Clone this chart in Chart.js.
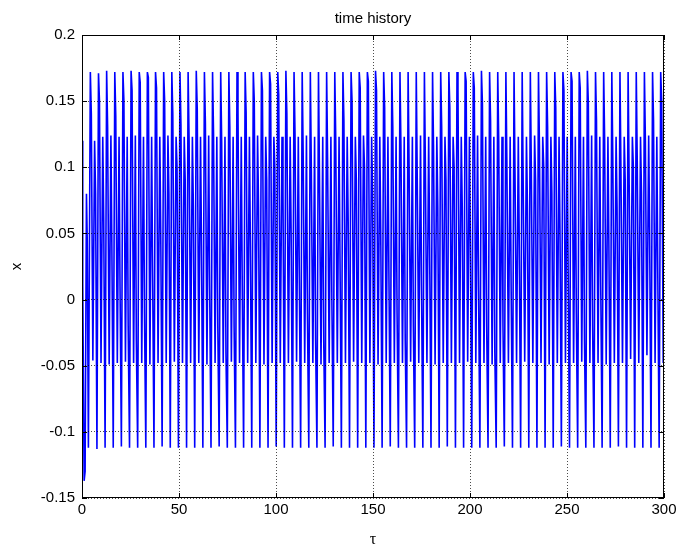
<!DOCTYPE html>
<html>
<head>
<meta charset="utf-8">
<script src="https://cdn.jsdelivr.net/npm/chart.js@4.4.1/dist/chart.umd.min.js"></script>
<style>
  body { margin: 0; background: #fff; }
  canvas { display: block; }
</style>
</head>
<body>
<canvas id="chart" width="681" height="550"></canvas>
<script>
// axis ticks
const xTicks = [0, 50, 100, 150, 200, 250, 300];
const yTicks = [-0.15, -0.1, -0.05, 0, 0.05, 0.1, 0.15, 0.2];

// start-up transient before the steady oscillation
const startTimes = [0, 0.25, 0.5, 1.1, 1.6, 2.3, 2.7, 3.3];
const startValues = [0.12, 0.005, 0.012, -0.137, -0.13, 0.08, 0.045, -0.112];

// time of each tall spike
const spikeTimes = [
  4.3, 8.5, 12.7, 16.9, 21.1, 25.3, 29.5, 33.7, 37.9, 42.1,
  46.3, 50.5, 54.7, 58.9, 63.1, 67.3, 71.5, 75.7, 79.9, 84.1,
  88.3, 92.5, 96.7, 100.9, 105.1, 109.3, 113.5, 117.7, 121.9, 126.1,
  130.3, 134.5, 138.7, 142.9, 147.1, 151.3, 155.5, 159.7, 163.9, 168.1,
  172.3, 176.5, 180.7, 184.9, 189.1, 193.3, 197.5, 201.7, 205.9, 210.1,
  214.3, 218.5, 222.7, 226.9, 231.1, 235.3, 239.5, 243.7, 247.9, 252.1,
  256.3, 260.5, 264.7, 268.9, 273.1, 277.3, 281.5, 285.7, 289.9, 294.1,
  298.3
];
// where each extreme sits inside one cycle (in tau)
const cyclePhase = [0, 0.5, 1.3, 2.2, 2.7, 3.4];

const peakHigh = [
  0.172, 0.171, 0.173, 0.172, 0.172, 0.173, 0.172, 0.172, 0.172, 0.172,
  0.172, 0.172, 0.172, 0.173, 0.172, 0.172, 0.172, 0.172, 0.172, 0.172,
  0.172, 0.172, 0.172, 0.172, 0.173, 0.172, 0.172, 0.172, 0.172, 0.172,
  0.172, 0.172, 0.172, 0.172, 0.172, 0.173, 0.172, 0.172, 0.172, 0.172,
  0.172, 0.172, 0.172, 0.172, 0.172, 0.172, 0.172, 0.172, 0.173, 0.172,
  0.172, 0.172, 0.172, 0.172, 0.172, 0.172, 0.172, 0.172, 0.172, 0.172,
  0.172, 0.173, 0.172, 0.172, 0.172, 0.172, 0.172, 0.172, 0.172, 0.172,
  0.172
];
const shoulderHigh = [
  0.140, 0.150, 0.130, 0.139, 0.150, 0.158, 0.164, 0.168, 0.160, 0.150,
  0.140, 0.132, 0.120, 0.144, 0.133, 0.125, 0.118, 0.130, 0.143, 0.141,
  0.150, 0.158, 0.163, 0.155, 0.140, 0.125, 0.110, 0.100, 0.095, 0.105,
  0.120, 0.135, 0.150, 0.160, 0.165, 0.158, 0.145, 0.130, 0.115, 0.100,
  0.092, 0.100, 0.115, 0.130, 0.145, 0.158, 0.165, 0.160, 0.148, 0.135,
  0.120, 0.105, 0.095, 0.090, 0.100, 0.115, 0.130, 0.145, 0.158, 0.165,
  0.160, 0.148, 0.135, 0.120, 0.108, 0.098, 0.095, 0.105, 0.120, 0.135,
  0.150
];
const troughMid = [
  -0.046, -0.048, -0.049, -0.048, -0.047, -0.048, -0.048, -0.049, -0.048, -0.048,
  -0.047, -0.048, -0.048, -0.048, -0.049, -0.048, -0.048, -0.047, -0.048, -0.048,
  -0.048, -0.049, -0.048, -0.048, -0.048, -0.047, -0.048, -0.048, -0.049, -0.048,
  -0.048, -0.048, -0.047, -0.048, -0.048, -0.049, -0.048, -0.048, -0.048, -0.047,
  -0.048, -0.048, -0.049, -0.048, -0.048, -0.048, -0.047, -0.048, -0.048, -0.049,
  -0.048, -0.048, -0.048, -0.047, -0.048, -0.048, -0.049, -0.048, -0.048, -0.048,
  -0.047, -0.048, -0.048, -0.049, -0.048, -0.048, -0.045, -0.048, -0.042, -0.048,
  -0.048
];
const peakMid = [
  0.120, 0.123, 0.124, 0.123, 0.123, 0.124, 0.123, 0.123, 0.123, 0.124,
  0.123, 0.123, 0.123, 0.123, 0.124, 0.123, 0.123, 0.123, 0.123, 0.123,
  0.124, 0.123, 0.123, 0.123, 0.123, 0.123, 0.124, 0.123, 0.123, 0.123,
  0.123, 0.123, 0.123, 0.124, 0.123, 0.123, 0.123, 0.123, 0.123, 0.123,
  0.124, 0.123, 0.123, 0.123, 0.123, 0.123, 0.123, 0.124, 0.123, 0.123,
  0.123, 0.123, 0.123, 0.123, 0.124, 0.123, 0.123, 0.123, 0.123, 0.123,
  0.123, 0.124, 0.123, 0.123, 0.123, 0.123, 0.123, 0.123, 0.124, 0.123,
  0.123
];
const shoulderMid = [
  0.08, 0.06, 0.04, 0.01, -0.02, -0.03, -0.01, 0.02, 0.05, 0.08,
  0.10, 0.09, 0.07, 0.04, 0.01, -0.02, -0.04, -0.02, 0.01, 0.04,
  0.07, 0.09, 0.10, 0.08, 0.05, 0.02, -0.01, -0.03, -0.03, 0.00,
  0.03, 0.06, 0.09, 0.10, 0.08, 0.05, 0.02, -0.01, -0.03, -0.02,
  0.01, 0.04, 0.07, 0.09, 0.10, 0.07, 0.04, 0.01, -0.02, -0.04,
  -0.02, 0.01, 0.04, 0.07, 0.09, 0.10, 0.08, 0.05, 0.02, -0.01,
  -0.03, -0.02, 0.01, 0.04, 0.07, 0.09, 0.10, 0.08, 0.05, 0.02,
  0.00
];
const troughLow = [
  -0.113, -0.112, -0.112, -0.111, -0.112, -0.112, -0.112, -0.112, -0.111, -0.112,
  -0.112, -0.112, -0.112, -0.112, -0.112, -0.111, -0.112, -0.112, -0.112, -0.112,
  -0.112, -0.112, -0.111, -0.112, -0.112, -0.112, -0.112, -0.112, -0.112, -0.111,
  -0.112, -0.112, -0.112, -0.112, -0.112, -0.112, -0.111, -0.112, -0.112, -0.112,
  -0.112, -0.112, -0.112, -0.111, -0.112, -0.112, -0.112, -0.112, -0.112, -0.112,
  -0.111, -0.112, -0.112, -0.112, -0.112, -0.112, -0.112, -0.111, -0.112, -0.112,
  -0.112, -0.112, -0.112, -0.112, -0.111, -0.112, -0.112, -0.112, -0.112, -0.112,
  -0.113
];

const points = startTimes.map((t, i) => ({ x: t, y: startValues[i] }));
spikeTimes.forEach((t, i) => {
    const vals = [peakHigh[i], shoulderHigh[i], troughMid[i], peakMid[i], shoulderMid[i], troughLow[i]];
    vals.forEach((v, j) => points.push({ x: t + cyclePhase[j], y: v }));
});

const sans = "'Liberation Sans', Arial, sans-serif";

// black box and short inward ticks on all four sides, like the original figure
const boxPlugin = {
    id: 'box',
    afterDraw(chart) {
        const { ctx, chartArea: a, scales: { x, y } } = chart;
        ctx.save();
        ctx.strokeStyle = '#000';
        ctx.lineWidth = 1;
        ctx.strokeRect(a.left + 0.5, a.top + 0.5, a.right - a.left - 1, a.bottom - a.top - 1);
        ctx.beginPath();
        xTicks.forEach(v => {
            const px = Math.round(x.getPixelForValue(v)) + 0.5;
            ctx.moveTo(px, a.bottom);
            ctx.lineTo(px, a.bottom - 5);
            ctx.moveTo(px, a.top);
            ctx.lineTo(px, a.top + 5);
        });
        yTicks.forEach(v => {
            const py = Math.round(y.getPixelForValue(v)) + 0.5;
            ctx.moveTo(a.left, py);
            ctx.lineTo(a.left + 5, py);
            ctx.moveTo(a.right, py);
            ctx.lineTo(a.right - 5, py);
        });
        ctx.stroke();
        ctx.restore();
    }
};

new Chart(document.getElementById('chart'), {
    type: 'line',
    data: {
        datasets: [{
            data: points,
            borderColor: '#0000ff',
            borderWidth: 1.6,
            pointRadius: 0,
            tension: 0,
            fill: false
        }]
    },
    options: {
        responsive: false,
        animation: false,
        layout: { padding: { left: 0, right: 17, top: 0, bottom: 0 } },
        plugins: {
            legend: { display: false },
            tooltip: { enabled: false },
            title: {
                display: true,
                text: 'time history',
                fullSize: false,
                color: '#000',
                font: { family: sans, size: 15, weight: 'normal', lineHeight: 1.2 },
                padding: { top: 10, bottom: 7 }
            }
        },
        scales: {
            x: {
                type: 'linear',
                min: 0,
                max: 300,
                afterFit: s => { s.height = 52; },
                afterBuildTicks: s => { s.ticks = xTicks.map(v => ({ value: v })); },
                ticks: {
                    color: '#000',
                    padding: 3,
                    maxRotation: 0,
                    font: { family: sans, size: 15 }
                },
                grid: { color: 'rgba(0,0,0,0.7)', drawTicks: false, z: 1 },
                border: { display: false, dash: [1, 2] },
                title: {
                    display: true,
                    text: 'τ',
                    color: '#000',
                    font: { family: "'Liberation Serif', serif", size: 16 },
                    padding: { top: 0, bottom: 1 }
                }
            },
            y: {
                type: 'linear',
                min: -0.15,
                max: 0.2,
                afterFit: s => { s.width = 82; },
                afterBuildTicks: s => { s.ticks = yTicks.map(v => ({ value: v })); },
                ticks: {
                    color: '#000',
                    padding: 7,
                    font: { family: sans, size: 15 },
                    callback: v => String(parseFloat(v.toFixed(2)))
                },
                grid: { color: 'rgba(0,0,0,0.7)', drawTicks: false, z: 1 },
                border: { display: false, dash: [1, 2] },
                title: {
                    display: true,
                    text: 'x',
                    color: '#000',
                    font: { family: sans, size: 15 },
                    padding: { top: 8, bottom: 0 }
                }
            }
        }
    },
    plugins: [boxPlugin]
});
</script>
</body>
</html>
